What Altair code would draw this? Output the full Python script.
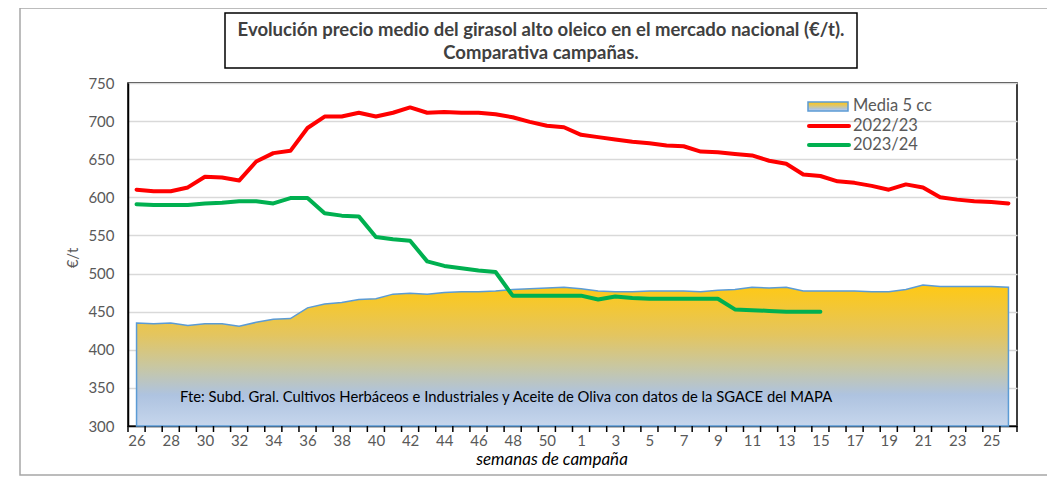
import altair as alt
import pandas as pd

# ---------------- data ----------------
weeks = [26, 27, 28, 29, 30, 31, 32, 33, 34, 35, 36, 37, 38, 39, 40, 41, 42, 43, 44, 45,
         46, 47, 48, 49, 50, 51, 1, 2, 3, 4, 5, 6, 7, 8, 9, 10, 11, 12, 13, 14, 15, 16,
         17, 18, 19, 20, 21, 22, 23, 24, 25, 26]

media_5cc = [435, 434, 435, 432, 434, 434, 431, 436, 440, 441, 455, 460, 462, 466, 467, 473,
             474, 473, 475, 476, 476, 477, 479, 480, 481, 482,
             480, 477, 476, 476, 477, 477, 477, 476, 478, 479, 482, 481, 482, 477, 477, 477,
             477, 476, 476, 479, 485, 483, 483, 483, 483, 482]

camp_2022_23 = [610, 608, 608, 613, 627, 626, 622, 647, 658, 661, 691, 706, 706, 711, 706, 711,
                718, 711, 712, 711, 711, 709, 705, 699, 694, 692,
                682, 679, 676, 673, 671, 668, 667, 660, 659, 657, 655, 648, 644, 630, 628, 621,
                619, 615, 610, 617, 613, 600, 597, 595, 594, 592]

camp_2023_24 = [591, 590, 590, 590, 592, 593, 595, 595, 592, 599, 599, 579, 576, 575, 548, 545,
                543, 516, 510, 507, 504, 502, 471, 471, 471, 471,
                471, 466, 470, 468, 467, 467, 467, 467, 467, 453, 452, 451, 450, 450, 450]

y_ticks = [300, 350, 400, 450, 500, 550, 600, 650, 700, 750]

title_lines = ["Evolución precio medio del girasol alto oleico en el mercado nacional (€/t).",
               "Comparativa campañas."]
source_note = ("Fte: Subd. Gral. Cultivos Herbáceos e Industriales y Aceite de Oliva "
               "con datos de la SGACE del MAPA")
legend_labels = ["Media 5 cc", "2022/23", "2023/24"]
x_title = "semanas de campaña"
y_title = "€/t"

# ---------------- tables ----------------
n = len(weeks)
df = pd.DataFrame({
    "i": list(range(n)),
    "semana": weeks,
    "media": media_5cc,
    "c2223": camp_2022_23,
    "c2324": camp_2023_24 + [None] * (n - len(camp_2023_24)),
})
ticks_df = pd.DataFrame({"i": [k - 0.5 for k in range(n + 1)]})
one = pd.DataFrame({"k": [0]})

W, H = 889, 343
FONT = "Lato"
GREY = "#595959"

label_expr = "[" + ",".join(f"'{w}'" for w in weeks) + "][datum.value]"

xscale = alt.Scale(domain=[-0.5, n - 0.5], nice=False, zero=False)
yscale = alt.Scale(domain=[300, 750], nice=False, zero=False)

x_axis = alt.Axis(values=list(range(0, n, 2)), labelExpr=label_expr, ticks=False, grid=False,
                  domainColor="black", domainWidth=1.5, labelFontSize=15, labelColor=GREY,
                  labelFont=FONT, labelPadding=7, labelOverlap=False, labelFlush=False,
                  title=None)
y_axis = alt.Axis(values=y_ticks, ticks=False, grid=True, gridColor="#D9D9D9", gridWidth=1.5,
                  domainColor="black", domainWidth=1.5, labelFontSize=15, labelColor=GREY,
                  labelFont=FONT, labelPadding=14, labelOverlap=False, labelFlush=False,
                  title=None)

X = alt.X("i:Q", scale=xscale, axis=x_axis)

gradient = alt.Gradient(
    gradient="linear",
    stops=[
        alt.GradientStop(color="#FFC914", offset=0),
        alt.GradientStop(color="#E4C55E", offset=0.35),
        alt.GradientStop(color="#C8C7A2", offset=0.58),
        alt.GradientStop(color="#AEC3E0", offset=0.78),
        alt.GradientStop(color="#C6D6EC", offset=1),
    ],
    x1=0, x2=0, y1=0, y2=1,
)

base = alt.Chart(df)

area = base.mark_area(fill=gradient, stroke="#5B9BD5", strokeWidth=1.5).encode(
    x=X,
    y=alt.Y("media:Q", scale=yscale, axis=y_axis),
    y2=alt.datum(300),
)

red = base.mark_line(color="#FF0000", strokeWidth=4, strokeCap="round", strokeJoin="round").encode(
    x=X,
    y=alt.Y("c2223:Q", scale=yscale, axis=y_axis),
)

green = base.transform_filter("isValid(datum.c2324)").mark_line(
    color="#00B050", strokeWidth=4, strokeCap="round", strokeJoin="round").encode(
    x=X,
    y=alt.Y("c2324:Q", scale=yscale, axis=y_axis),
)

xticks = alt.Chart(ticks_df).mark_rule(color="black", strokeWidth=1.5).encode(
    x=X,
    y=alt.value(H),
    y2=alt.value(H + 6),
)

deco = alt.Chart(one)

outer_frame = deco.mark_rect(fill="transparent", stroke="#A6A6A6", strokeWidth=1.5).encode(
    x=alt.value(-108), x2=alt.value(1000), y=alt.value(-75), y2=alt.value(392))

title_box = deco.mark_rect(fill="white", stroke="black", strokeWidth=1.5).encode(
    x=alt.value(97), x2=alt.value(729), y=alt.value(-70), y2=alt.value(-15))

title1 = deco.mark_text(font=FONT, fontSize=18.5, fontWeight="bold", color="#404040").encode(
    x=alt.value(413), y=alt.value(-53), text=alt.value(title_lines[0]))
title2 = deco.mark_text(font=FONT, fontSize=18.5, fontWeight="bold", color="#404040").encode(
    x=alt.value(413), y=alt.value(-30), text=alt.value(title_lines[1]))

src = deco.mark_text(font=FONT, fontSize=14.8, color="black", align="left").encode(
    x=alt.value(52), y=alt.value(315), text=alt.value(source_note))

xt = deco.mark_text(font=FONT, fontSize=17, fontStyle="italic", color="black").encode(
    x=alt.value(424), y=alt.value(377), text=alt.value(x_title))

yt = deco.mark_text(font=FONT, fontSize=15, color=GREY, angle=270).encode(
    x=alt.value(-55), y=alt.value(175), text=alt.value(y_title))

leg_rect = deco.mark_rect(fill=gradient, stroke="#5B9BD5", strokeWidth=1.5).encode(
    x=alt.value(680), x2=alt.value(720), y=alt.value(19), y2=alt.value(28))
leg_red = deco.mark_rule(color="#FF0000", strokeWidth=4, strokeCap="round").encode(
    x=alt.value(681), x2=alt.value(721), y=alt.value(43))
leg_green = deco.mark_rule(color="#00B050", strokeWidth=4, strokeCap="round").encode(
    x=alt.value(681), x2=alt.value(721), y=alt.value(62))
leg_txt = [
    deco.mark_text(font=FONT, fontSize=16.5, color=GREY, align="left").encode(
        x=alt.value(725), y=alt.value(yy), text=alt.value(lab))
    for lab, yy in zip(legend_labels, [23, 43, 62])
]

chart = alt.layer(
    outer_frame, title_box, title1, title2,
    area, red, green, xticks, src, xt, yt,
    leg_rect, leg_red, leg_green, *leg_txt,
).properties(
    width=W, height=H,
    autosize=alt.AutoSizeParams(type="none"),
    padding={"left": 120, "top": 75, "right": 30, "bottom": 52},
    background="white",
).configure_view(stroke="black", strokeWidth=1.5)

chart.save("out.html", embed_options={"renderer": "svg", "actions": False})
